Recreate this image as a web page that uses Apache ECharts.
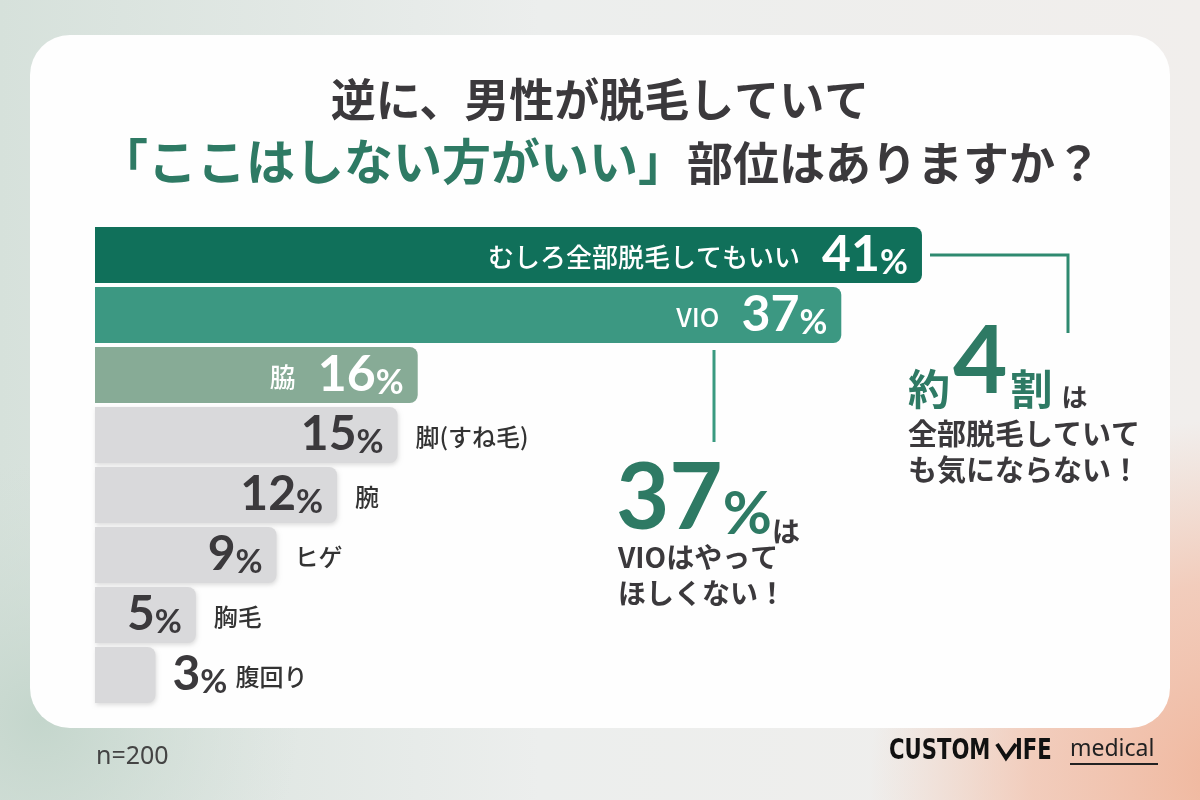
<!DOCTYPE html>
<html>
<head>
<meta charset="utf-8">
<script src="https://cdn.jsdelivr.net/npm/echarts@6/dist/echarts.min.js"></script>
<style>
html, body { margin: 0; padding: 0; }
#main { width: 1200px; height: 800px; }
</style>
</head>
<body>
<div id="main"></div>
<script>
// データ
const categories = ['むしろ全部脱毛してもいい', 'VIO', '脇', '脚(すね毛)', '腕', 'ヒゲ', '胸毛', '腹回り']
const values = [41, 37, 16, 15, 12, 9, 5, 3]
const highlightCount = 3
const barColors = ['#10705a', '#3c9882', '#87ab96', '#d9d9db', '#d9d9db', '#d9d9db', '#d9d9db', '#d9d9db']

const JP = '"Noto Sans CJK JP", "Noto Sans", sans-serif'
const NUM = 'Lato, "Noto Sans", sans-serif'
const DARK = '#3b393c'
const GREEN = '#2e7a64'

const rich = {
  cat: { fontFamily: JP, fontSize: 26, color: '#fff', fontWeight: 500, verticalAlign: 'middle', padding: [4, 0, 0, 0] },
  num: { fontFamily: NUM, fontSize: 50, color: '#fff', fontWeight: 'bold', verticalAlign: 'bottom', lineHeight: 50, padding: [0, 0, 0, 22] },
  pct: { fontFamily: NUM, fontSize: 34, color: '#fff', fontWeight: 'bold', verticalAlign: 'bottom', lineHeight: 38 },
  dnum: { fontFamily: NUM, fontSize: 48, color: DARK, fontWeight: 'bold', verticalAlign: 'bottom', lineHeight: 48 },
  dpct: { fontFamily: NUM, fontSize: 33, color: DARK, fontWeight: 'bold', verticalAlign: 'bottom', lineHeight: 37 },
  out: { fontFamily: JP, fontSize: 24, color: '#333', fontWeight: 500, verticalAlign: 'middle', padding: [4, 0, 0, 0] },
  outp: { fontFamily: JP, fontSize: 24, color: '#333', fontWeight: 500, verticalAlign: 'middle', padding: [4, 0, 0, 8] },
}

// バー本体
const mainData = values.map((v, i) => {
  let label
  if (i < highlightCount) {
    label = { show: true, position: 'insideRight', distance: 14, formatter: `{cat|${categories[i]}}{num|${v}}{pct|%}`, rich }
  } else if (v >= 5) {
    label = { show: true, position: 'insideRight', distance: 14, formatter: `{dnum|${v}}{dpct|%}`, rich }
  } else {
    label = { show: false }
  }
  const gray = i >= highlightCount
  return {
    value: v,
    label,
    itemStyle: {
      color: barColors[i],
      borderRadius: [0, 8, 8, 0],
      shadowColor: gray ? 'rgba(0,0,0,0.13)' : 'rgba(0,0,0,0)',
      shadowBlur: gray ? 4 : 0,
      shadowOffsetY: gray ? 2 : 0,
      shadowOffsetX: gray ? 1 : 0,
    },
  }
})

// 外側ラベル用（透明）
const outerData = values.map((v, i) => {
  let label
  if (i < highlightCount) {
    label = { show: false }
  } else if (v >= 5) {
    label = { show: true, position: 'right', distance: 18, formatter: `{out|${categories[i]}}`, rich }
  } else {
    label = { show: true, position: 'right', distance: 17, formatter: `{dnum|${v}}{dpct|%}{outp|${categories[i]}}`, rich }
  }
  return { value: v, label }
})

const myChart = echarts.init(document.getElementById('main'))

const condensed = '"Liberation Sans Narrow", "DejaVu Sans Condensed", sans-serif'

const option = {
  animation: false,
  grid: { left: 95, right: 96.5, top: 225, bottom: 95 },
  xAxis: { type: 'value', min: 0, max: 50, show: false },
  yAxis: {
    type: 'category',
    inverse: true,
    data: categories,
    axisLine: { show: false },
    axisTick: { show: false },
    axisLabel: { show: false },
  },
  series: [
    { type: 'bar', data: mainData, barWidth: 56, z: 3 },
    { type: 'bar', data: outerData, barWidth: 56, barGap: '-100%', itemStyle: { color: 'rgba(0,0,0,0)' }, silent: true, z: 4 },
  ],
  graphic: [
    // 背景
    {
      type: 'rect', z: -10, silent: true,
      shape: { x: 0, y: 0, width: 1200, height: 800 },
      style: { fill: new echarts.graphic.LinearGradient(0, 0, 1, 0, [
        { offset: 0, color: '#d6e1db' }, { offset: 0.45, color: '#eceeed' }, { offset: 1, color: '#f1eeec' },
      ]) },
    },
    {
      type: 'circle', z: -9, silent: true,
      shape: { cx: 1230, cy: 780, r: 360 },
      style: { fill: new echarts.graphic.RadialGradient(0.5, 0.5, 0.5, [
        { offset: 0, color: 'rgba(240,182,156,1)' }, { offset: 0.55, color: 'rgba(242,196,176,0.8)' }, { offset: 1, color: 'rgba(242,200,180,0)' },
      ]) },
    },
    {
      type: 'circle', z: -9, silent: true,
      shape: { cx: 40, cy: 720, r: 260 },
      style: { fill: new echarts.graphic.RadialGradient(0.5, 0.5, 0.5, [
        { offset: 0, color: 'rgba(196,214,204,1)' }, { offset: 1, color: 'rgba(210,222,215,0)' },
      ]) },
    },
    {
      type: 'rect', z: -5, silent: true,
      shape: { x: 30, y: 35, width: 1140, height: 693, r: 40 },
      style: { fill: '#fefefe' },
    },
    // タイトル
    {
      type: 'text', x: 600, y: 100, z: 10,
      style: { text: '逆に、男性が脱毛していて', align: 'center', verticalAlign: 'middle', fontFamily: JP, fontSize: 45, fontWeight: 'bold', fill: DARK },
    },
    {
      type: 'text', x: 600, y: 158, z: 10,
      style: {
        text: '{g|「ここはしない方がいい」}{d|部位はありますか？}', align: 'center', verticalAlign: 'middle',
        fontFamily: JP, fontWeight: 'bold',
        rich: {
          g: { fontFamily: JP, fontSize: 49, fontWeight: 'bold', fill: GREEN, verticalAlign: 'bottom', lineHeight: 56 },
          d: { fontFamily: JP, fontSize: 46, fontWeight: 'bold', fill: DARK, verticalAlign: 'bottom', lineHeight: 55 },
        },
      },
    },
    // 吹き出し線
    {
      type: 'polyline', z: 10, silent: true,
      shape: { points: [[930, 255], [1068, 255], [1068, 333]] },
      style: { stroke: '#2f8a70', lineWidth: 3, fill: null },
    },
    {
      type: 'line', z: 10, silent: true,
      shape: { x1: 714, y1: 350, x2: 714, y2: 442 },
      style: { stroke: '#3a9a80', lineWidth: 3 },
    },
    // 注釈：37%
    {
      type: 'text', x: 616, y: 545, z: 10,
      style: {
        text: '{a|37}{b|%}{c|は}', align: 'left', verticalAlign: 'bottom',
        rich: {
          a: { fontFamily: NUM, fontSize: 92, fontWeight: 'bold', fill: GREEN, verticalAlign: 'bottom', lineHeight: 92 },
          b: { fontFamily: NUM, fontSize: 60, fontWeight: 'bold', fill: GREEN, verticalAlign: 'bottom', lineHeight: 64 },
          c: { fontFamily: JP, fontSize: 28, fontWeight: 'bold', fill: DARK, verticalAlign: 'bottom', lineHeight: 40 },
        },
      },
    },
    {
      type: 'text', x: 618, y: 557, z: 10,
      style: { text: 'VIOはやって', align: 'left', verticalAlign: 'middle', fontFamily: JP, fontSize: 28, fontWeight: 'bold', fill: DARK },
    },
    {
      type: 'text', x: 618, y: 593, z: 10,
      style: { text: 'ほしくない！', align: 'left', verticalAlign: 'middle', fontFamily: JP, fontSize: 28, fontWeight: 'bold', fill: DARK },
    },
    // 注釈：約4割
    {
      type: 'text', x: 905, y: 410, z: 10,
      style: {
        text: '{a|約}{b|4}{a|割}{c| は}', align: 'left', verticalAlign: 'bottom',
        rich: {
          a: { fontFamily: JP, fontSize: 42, fontWeight: 'bold', fill: GREEN, verticalAlign: 'bottom', lineHeight: 48, padding: [0, 3, 0, 3] },
          b: { fontFamily: NUM, fontSize: 94, fontWeight: 'bold', fill: GREEN, verticalAlign: 'bottom', lineHeight: 94 },
          c: { fontFamily: JP, fontSize: 26, fontWeight: 'bold', fill: DARK, verticalAlign: 'bottom', lineHeight: 40 },
        },
      },
    },
    {
      type: 'text', x: 908, y: 434, z: 10,
      style: { text: '全部脱毛していて', align: 'left', verticalAlign: 'middle', fontFamily: JP, fontSize: 29, fontWeight: 'bold', fill: DARK },
    },
    {
      type: 'text', x: 908, y: 470, z: 10,
      style: { text: 'も気にならない！', align: 'left', verticalAlign: 'middle', fontFamily: JP, fontSize: 29, fontWeight: 'bold', fill: DARK },
    },
    // n
    {
      type: 'text', x: 96, y: 757, z: 10,
      style: { text: 'n=200', align: 'left', verticalAlign: 'middle', fontFamily: '"Noto Sans", sans-serif', fontSize: 25, fill: '#444' },
    },
    // ロゴ
    {
      type: 'text', x: 889, y: 752, z: 10, scaleX: 0.84,
      style: { text: 'CUSTOM', align: 'left', verticalAlign: 'middle', fontFamily: condensed, fontSize: 28, fontWeight: 'bold', fill: '#111' },
    },
    {
      type: 'polyline', z: 10, silent: true,
      shape: { points: [[997, 744], [1006, 758], [1016, 744]] },
      style: { stroke: '#111', lineWidth: 4, fill: null },
    },
    {
      type: 'text', x: 1015, y: 752, z: 10, scaleX: 0.84,
      style: { text: 'IFE', align: 'left', verticalAlign: 'middle', fontFamily: condensed, fontSize: 28, fontWeight: 'bold', fill: '#111' },
    },
    {
      type: 'text', x: 1070, y: 749, z: 10,
      style: { text: 'medical', align: 'left', verticalAlign: 'middle', fontFamily: '"Noto Sans", sans-serif', fontSize: 23, fill: '#222' },
    },
    {
      type: 'line', z: 10, silent: true,
      shape: { x1: 1070, y1: 764, x2: 1158, y2: 764 },
      style: { stroke: '#222', lineWidth: 2 },
    },
  ],
}

myChart.setOption(option)
</script>
</body>
</html>
